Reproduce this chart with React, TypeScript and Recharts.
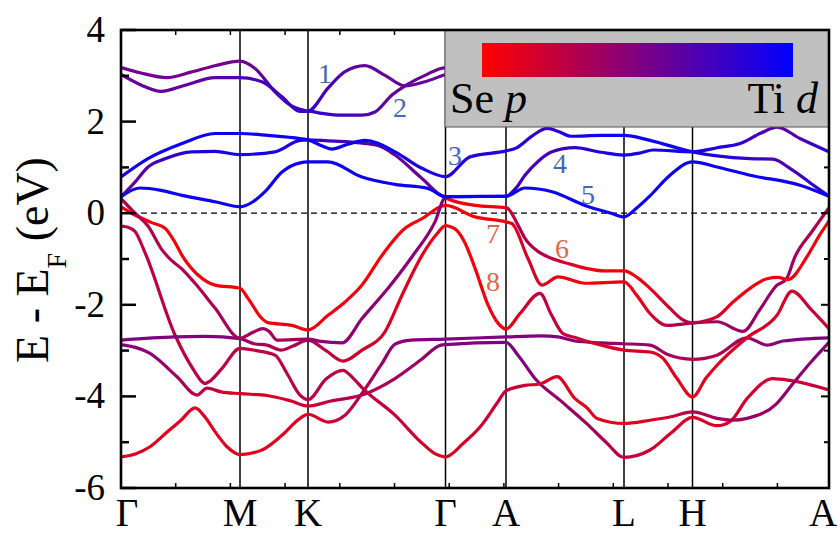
import { LineChart, Line, XAxis, YAxis, ReferenceLine } from "recharts";

// k-path positions of the high-symmetry points and their labels
const KPOS = [0, 119, 187, 324.5, 385, 503, 571.5, 708];
const KLABELS = ["Γ", "M", "K", "Γ", "A", "L", "H", "A"];
const XMINOR = [54.7, 109.4, 164.1, 218.8, 273.5, 328.2, 382.9, 437.6, 492.3, 547, 601.7, 656.4];
const YTICKS = [-6, -5, -4, -3, -2, -1, 0, 1, 2, 3, 4];

// bands: [k, E - E_F (eV), Ti d weight (0 = Se p, 1 = Ti d)]
const bandT1 = [
  [0, 3.18, 0.55], [20, 3.06, 0.55], [46, 2.96, 0.55], [70, 3.08, 0.55], [94, 3.22, 0.55],
  [119, 3.32, 0.55], [134, 3.16, 0.6], [154, 2.65, 0.68], [170, 2.35, 0.75], [179, 2.27, 0.78],
  [187, 2.23, 0.8], [207, 2.73, 0.72], [224, 3.09, 0.65], [244, 3.22, 0.6], [264, 3.01, 0.6],
  [284, 2.78, 0.6], [304, 2.87, 0.6], [324.5, 3.03, 0.6], [385, 3.35, 0.6], [503, 3.3, 0.6],
  [571.5, 3.5, 0.6], [708, 3.45, 0.6],
];
const bandT2 = [
  [0, 3.03, 0.6], [20, 2.8, 0.6], [40, 2.66, 0.6], [65, 2.8, 0.62], [94, 2.96, 0.65],
  [119, 2.96, 0.7], [141, 2.87, 0.72], [161, 2.54, 0.75], [179, 2.22, 0.78], [187, 2.23, 0.8],
  [201, 2.18, 0.78], [220, 2.14, 0.75], [241, 2.14, 0.7], [254, 2.21, 0.65], [271, 2.58, 0.6],
  [284, 2.78, 0.6], [304, 3.01, 0.58], [324.5, 3.18, 0.55], [385, 3.2, 0.6], [503, 3.1, 0.6],
  [571.5, 3.3, 0.6], [708, 3.2, 0.6],
];
const bandC = [
  [0, 0.79, 0.92], [27, 1.19, 0.92], [61, 1.52, 0.95], [94, 1.74, 0.95], [119, 1.74, 0.95],
  [147, 1.7, 0.95], [179, 1.63, 0.95], [187, 1.6, 0.95], [200, 1.48, 0.95], [211, 1.4, 0.95],
  [226, 1.5, 0.95], [244, 1.59, 0.95], [274, 1.34, 0.92], [301, 0.98, 0.88], [324.5, 0.8, 0.85],
  [349, 1.23, 0.85], [385, 1.36, 0.85], [395, 1.42, 0.85], [412, 1.7, 0.8], [426, 1.85, 0.8],
  [438, 1.78, 0.85], [450, 1.68, 0.92], [480, 1.7, 0.95], [503, 1.7, 0.95], [529, 1.59, 0.95],
  [571.5, 1.34, 0.92], [596, 1.25, 0.85], [629, 1.19, 0.8], [652, 1.18, 0.7], [669, 0.98, 0.7],
  [690, 0.65, 0.8], [708, 0.37, 0.9],
];
const bandD = [
  [0, 0.36, 0.55], [14, 0.68, 0.6], [27, 1.01, 0.7], [44, 1.19, 0.8], [71, 1.34, 0.88],
  [94, 1.35, 0.9], [119, 1.28, 0.92], [154, 1.34, 0.9], [179, 1.59, 0.85], [187, 1.6, 0.8],
  [207, 1.58, 0.75], [227, 1.56, 0.7], [257, 1.48, 0.65], [274, 1.27, 0.6], [301, 0.76, 0.58],
  [324.5, 0.36, 0.55], [330, 0.36, 0.92], [385, 0.37, 0.9], [395, 0.55, 0.8], [404, 0.83, 0.72],
  [417, 1.13, 0.7], [431, 1.34, 0.72], [454, 1.43, 0.8], [480, 1.33, 0.88], [503, 1.27, 0.92],
  [520, 1.32, 0.92], [532, 1.38, 0.92], [571.5, 1.34, 0.92], [596, 1.43, 0.9], [619, 1.52, 0.82],
  [640, 1.75, 0.7], [656, 1.88, 0.62], [679, 1.63, 0.7], [708, 1.34, 0.85],
];
const bandE = [
  [0, 0.36, 0.92], [19, 0.55, 0.95], [40, 0.5, 0.95], [61, 0.39, 0.95], [94, 0.25, 0.95],
  [119, 0.14, 0.95], [132, 0.25, 0.95], [144, 0.47, 0.95], [161, 0.9, 0.95], [179, 1.1, 0.95],
  [187, 1.12, 0.95], [207, 1.12, 0.95], [241, 0.79, 0.95], [274, 0.63, 0.95], [307, 0.54, 0.95],
  [324.5, 0.36, 0.95], [385, 0.37, 0.95], [404, 0.55, 0.95], [431, 0.47, 0.95], [464, 0.17, 0.95],
  [490, 0.0, 0.95], [503, -0.08, 0.95], [516, 0.12, 0.95], [529, 0.38, 0.95], [549, 0.83, 0.95],
  [571.5, 1.12, 0.95], [596, 1.01, 0.95], [629, 0.83, 0.95], [679, 0.61, 0.95], [708, 0.37, 0.95],
];
const bandR2 = [
  [0, 0.32, 0.3], [14, 0.0, 0.3], [27, -0.28, 0.3], [41, -0.8, 0.3], [49, -1.0, 0.3],
  [61, -1.22, 0.3], [74, -1.53, 0.3], [94, -2.07, 0.3], [119, -2.73, 0.35], [132, -2.6, 0.35],
  [142, -2.52, 0.35], [148, -2.58, 0.35], [156, -2.77, 0.35], [172, -2.76, 0.35], [187, -2.75, 0.4],
  [200, -2.8, 0.45], [221, -2.83, 0.45], [241, -2.3, 0.45], [267, -1.64, 0.45], [291, -0.95, 0.45],
  [314, -0.19, 0.45], [324.5, 0.34, 0.45], [326, 0.32, 0.05], [354, 0.17, 0.03], [385, 0.12, 0.05],
  [387, 0.1, 0.2], [397, -0.26, 0.3], [404, -0.55, 0.3], [418, -0.85, 0.3], [431, -0.99, 0.25],
  [447, -1.1, 0.15], [464, -1.2, 0.08], [483, -1.26, 0.05], [503, -1.26, 0.05], [516, -1.4, 0.05],
  [529, -1.64, 0.1], [549, -2.08, 0.2], [560, -2.3, 0.25], [571.5, -2.39, 0.3], [596, -2.26, 0.15],
  [612, -1.94, 0.08], [629, -1.64, 0.05], [646, -1.43, 0.05], [657, -1.4, 0.05], [667, -1.45, 0.05],
  [686, -0.95, 0.05], [698, -0.5, 0.05], [708, -0.17, 0.05],
];
const bandR1 = [
  [0, 0.14, 0.03], [14, -0.04, 0.03], [30, -0.2, 0.03], [44, -0.33, 0.03], [53, -0.6, 0.03],
  [61, -0.92, 0.03], [77, -1.35, 0.03], [94, -1.57, 0.03], [119, -1.64, 0.03], [127, -1.86, 0.03],
  [141, -2.3, 0.05], [147, -2.39, 0.05], [171, -2.45, 0.05], [187, -2.55, 0.08], [207, -2.23, 0.05],
  [224, -1.94, 0.05], [241, -1.57, 0.03], [261, -0.92, 0.03], [284, -0.33, 0.03], [301, -0.12, 0.03],
  [324.5, 0.17, 0.03], [354, -0.08, 0.03], [385, -0.19, 0.05], [391, -0.23, 0.1], [407, -0.99, 0.15],
  [421, -1.57, 0.15], [437, -1.39, 0.08], [464, -1.53, 0.05], [503, -1.5, 0.05], [516, -1.8, 0.08],
  [529, -2.19, 0.15], [546, -2.45, 0.25], [571.5, -2.4, 0.35], [596, -2.37, 0.4], [622, -2.58, 0.4],
  [639, -2.1, 0.4], [656, -1.57, 0.4], [665, -1.45, 0.38], [674, -0.95, 0.35], [691, -0.4, 0.3],
  [708, 0.12, 0.3],
];
const bandR3 = [
  [0, -0.28, 0.25], [6, -0.3, 0.25], [14, -0.4, 0.25], [24, -0.86, 0.25], [54, -2.66, 0.25],
  [74, -3.47, 0.25], [81, -3.68, 0.25], [84, -3.72, 0.25], [88, -3.68, 0.25], [101, -3.39, 0.25],
  [119, -2.95, 0.25], [135, -3.0, 0.25], [154, -3.1, 0.25], [166, -3.5, 0.25], [179, -3.97, 0.25],
  [187, -4.07, 0.25], [205, -3.62, 0.25], [222, -3.43, 0.25], [232, -3.6, 0.25], [242, -3.83, 0.25],
  [274, -4.41, 0.22], [300, -5.0, 0.18], [314, -5.25, 0.15], [324.5, -5.32, 0.15], [342, -5.03, 0.15],
  [359, -4.67, 0.18], [376, -4.15, 0.2], [385, -3.88, 0.22], [404, -3.76, 0.2], [419, -3.73, 0.15],
  [436, -3.57, 0.12], [454, -4.05, 0.1], [466, -4.25, 0.1], [476, -4.48, 0.1], [503, -4.59, 0.1],
  [529, -4.52, 0.15], [549, -4.45, 0.2], [571.5, -4.34, 0.3], [596, -4.48, 0.35], [612, -4.52, 0.35],
  [626, -4.48, 0.38], [656, -4.15, 0.4], [672, -3.72, 0.42], [690, -3.25, 0.45], [708, -2.82, 0.45],
];
const bandR4 = [
  [0, -5.32, 0.12], [15, -5.25, 0.12], [29, -5.1, 0.12], [45, -4.8, 0.12], [60, -4.52, 0.12],
  [74, -4.25, 0.12], [84, -4.45, 0.12], [94, -4.77, 0.12], [106, -5.1, 0.12], [119, -5.27, 0.12],
  [141, -5.17, 0.12], [161, -4.85, 0.12], [179, -4.48, 0.12], [187, -4.39, 0.15], [207, -4.56, 0.2],
  [224, -4.41, 0.25], [242, -3.9, 0.3], [261, -3.28, 0.4], [274, -2.86, 0.45], [290, -2.77, 0.48],
  [324.5, -2.75, 0.5], [385, -2.7, 0.5], [420, -2.68, 0.5], [437, -2.7, 0.48], [454, -2.79, 0.45],
  [480, -2.83, 0.42], [503, -2.85, 0.4], [529, -2.88, 0.38], [546, -3.08, 0.35], [571.5, -3.19, 0.3],
  [596, -3.1, 0.3], [626, -2.72, 0.4], [646, -2.88, 0.45], [662, -2.79, 0.48], [708, -2.72, 0.5],
];
const bandP1 = [
  [0, -2.77, 0.5], [54, -2.7, 0.5], [84, -2.69, 0.5], [119, -2.74, 0.45], [133, -2.85, 0.35],
  [146, -2.88, 0.3], [160, -2.99, 0.3], [172, -2.9, 0.3], [187, -2.77, 0.3], [205, -3.0, 0.25],
  [222, -3.23, 0.2], [241, -2.99, 0.18], [264, -2.59, 0.15], [281, -1.79, 0.12], [301, -0.92, 0.1],
  [316, -0.45, 0.05], [324.5, -0.27, 0.03], [330, -0.3, 0.03], [336, -0.38, 0.03], [344, -0.65, 0.03],
  [354, -1.2, 0.03], [367, -2.0, 0.05], [377, -2.4, 0.05], [385, -2.53, 0.05], [399, -2.19, 0.15],
  [419, -1.75, 0.25], [430, -2.2, 0.25], [442, -2.63, 0.22], [455, -2.72, 0.2], [475, -2.85, 0.18],
  [503, -2.99, 0.15], [529, -3.03, 0.15], [542, -3.17, 0.12], [556, -3.61, 0.1], [571.5, -4.01, 0.08],
  [585, -3.6, 0.1], [596, -3.32, 0.12], [626, -2.72, 0.15], [656, -2.23, 0.15], [671, -1.7, 0.18],
  [690, -2.1, 0.2], [708, -2.52, 0.2],
];
const bandP2 = [
  [0, -2.87, 0.5], [29, -3.06, 0.45], [56, -3.57, 0.35], [76, -3.97, 0.3], [86, -3.82, 0.25],
  [100, -3.9, 0.2], [119, -3.94, 0.15], [146, -3.98, 0.15], [170, -4.1, 0.18], [187, -4.21, 0.2],
  [210, -4.1, 0.25], [241, -3.97, 0.3], [274, -3.61, 0.35], [300, -3.2, 0.4], [320, -2.88, 0.45],
  [324.5, -2.87, 0.48], [385, -2.82, 0.5], [397, -3.1, 0.48], [414, -3.61, 0.45], [441, -4.12, 0.4],
  [466, -4.6, 0.35], [485, -5.0, 0.3], [503, -5.33, 0.25], [529, -5.17, 0.2], [550, -4.8, 0.15],
  [571.5, -4.46, 0.15], [596, -4.64, 0.15], [609, -4.55, 0.15], [626, -4.05, 0.18], [652, -3.61, 0.2],
  [669, -3.65, 0.2], [708, -3.86, 0.22],
];

const BANDS = [bandP2, bandR4, bandR3, bandP1, bandR1, bandR2, bandT1, bandT2, bandD, bandC, bandE];
const BAND_LABELS = [
  { t: "1", x: 325, y: 73, c: "#4466bb" },
  { t: "2", x: 400, y: 107, c: "#4466bb" },
  { t: "3", x: 455, y: 155, c: "#4466bb" },
  { t: "4", x: 560, y: 163, c: "#4466bb" },
  { t: "5", x: 588, y: 194, c: "#4466bb" },
  { t: "6", x: 562, y: 248, c: "#e0664a" },
  { t: "7", x: 493, y: 233, c: "#e0664a" },
  { t: "8", x: 493, y: 281, c: "#e0664a" },
];

const W = 840;
const H = 535;
const PL = 121;
const PR = 829;
const PT = 30;
const PB = 488;
const KMAX = 708;
const SERIF = {
  fontFamily:
    '"Liberation Serif", "Times New Roman", Times, Tinos, "Nimbus Roman", "Noto Serif", "DejaVu Serif", FreeSerif, serif',
};

const mix = (w: number) => `rgb(${Math.round(255 * (1 - w))},0,${Math.round(255 * w)})`;

const XTick = (props: any) => {
  const { x, payload } = props;
  const i = KPOS.indexOf(payload.value);
  if (i < 0) {
    return (
      <g>
        <line x1={x} x2={x} y1={PB} y2={PB - 5} stroke="#000" strokeWidth={1.5} />
        <line x1={x} x2={x} y1={PT} y2={PT + 5} stroke="#000" strokeWidth={1.5} />
      </g>
    );
  }
  const nudge = i === 0 ? 6 : i === KPOS.length - 1 ? -6 : 0;
  return (
    <text x={x + nudge} y={526} textAnchor="middle" fontSize={39} style={SERIF} fill="#000">
      {KLABELS[i]}
    </text>
  );
};

const YTick = (props: any) => {
  const { y, payload } = props;
  const v = payload.value;
  const major = v % 2 === 0;
  return (
    <g>
      <line x1={PL} x2={PL + (major ? 15 : 8)} y1={y} y2={y} stroke="#000" strokeWidth={2.5} />
      <line x1={PR} x2={PR - (major ? 8 : 5)} y1={y} y2={y} stroke="#000" strokeWidth={2} />
      {major && (
        <text x={105} y={y + 12} textAnchor="end" fontSize={37} style={SERIF} fill="#000">
          {v}
        </text>
      )}
    </g>
  );
};

export default function App() {
  return (
    <div style={{ position: "absolute", left: 0, top: 0, width: W, height: H, background: "#fff", ...SERIF }}>
      <LineChart width={W} height={H} margin={{ top: PT, right: W - PR, bottom: 0, left: PL - 60 }}>
        <defs>
          {BANDS.map((b, i) => (
            <linearGradient key={i} id={`band${i}`} gradientUnits="userSpaceOnUse" x1={PL} x2={PR} y1={0} y2={0}>
              {b.map(([k, , w], j) => (
                <stop key={j} offset={k / KMAX} stopColor={mix(w)} />
              ))}
            </linearGradient>
          ))}
        </defs>
        <XAxis
          type="number"
          dataKey="k"
          domain={[0, KMAX]}
          ticks={[...KPOS, ...XMINOR]}
          interval={0}
          tick={XTick}
          tickLine={false}
          axisLine={false}
          height={H - PB}
          allowDataOverflow
        />
        <YAxis
          type="number"
          domain={[-6, 4]}
          ticks={YTICKS}
          interval={0}
          tick={YTick}
          tickLine={false}
          axisLine={false}
          width={60}
          allowDataOverflow
        />
        {KPOS.slice(1, -1).map((k, i) => (
          <ReferenceLine key={i} x={k} stroke="#000" strokeWidth={1.5} />
        ))}
        <ReferenceLine y={0} stroke="#000" strokeWidth={1.3} strokeDasharray="6 4" />
        {BANDS.map((b, i) => (
          <Line
            key={i}
            data={b.map(([k, e]) => ({ k, e }))}
            dataKey="e"
            type="monotone"
            stroke={`url(#band${i})`}
            strokeWidth={3.2}
            dot={false}
            activeDot={false}
            isAnimationActive={false}
          />
        ))}
      </LineChart>
      <svg
        width={W}
        height={H}
        style={{ position: "absolute", left: 0, top: 0, pointerEvents: "none", ...SERIF }}
      >
        <defs>
          <linearGradient id="legendBar" x1="0" x2="1" y1="0" y2="0">
            <stop offset="0" stopColor={mix(0)} />
            <stop offset="0.5" stopColor={mix(0.5)} />
            <stop offset="1" stopColor={mix(1)} />
          </linearGradient>
        </defs>
        <rect x={445} y={PT} width={PR - 445} height={97} fill="#c0c0c0" stroke="#555" strokeWidth={1} />
        <rect x={482} y={43} width={311} height={34} fill="url(#legendBar)" />
        <text x={450} y={113} fontSize={44} fill="#000" style={SERIF}>
          Se <tspan fontStyle="italic">p</tspan>
        </text>
        <text x={818} y={113} fontSize={44} fill="#000" textAnchor="end" style={SERIF}>
          Ti <tspan fontStyle="italic">d</tspan>
        </text>
        {BAND_LABELS.map((l) => (
          <text key={l.t} x={l.x} y={l.y + 10} fontSize={28} fill={l.c} textAnchor="middle" style={SERIF}>
            {l.t}
          </text>
        ))}
        <rect x={PL} y={PT} width={PR - PL} height={PB - PT} fill="none" stroke="#000" strokeWidth={2.6} />
        <text transform="translate(48,260) rotate(-90)" textAnchor="middle" fontSize={46} fill="#000" style={SERIF}>
          E - E<tspan dy={18} fontSize={28}>F</tspan>
          <tspan dy={-18}> (eV)</tspan>
        </text>
      </svg>
    </div>
  );
}
